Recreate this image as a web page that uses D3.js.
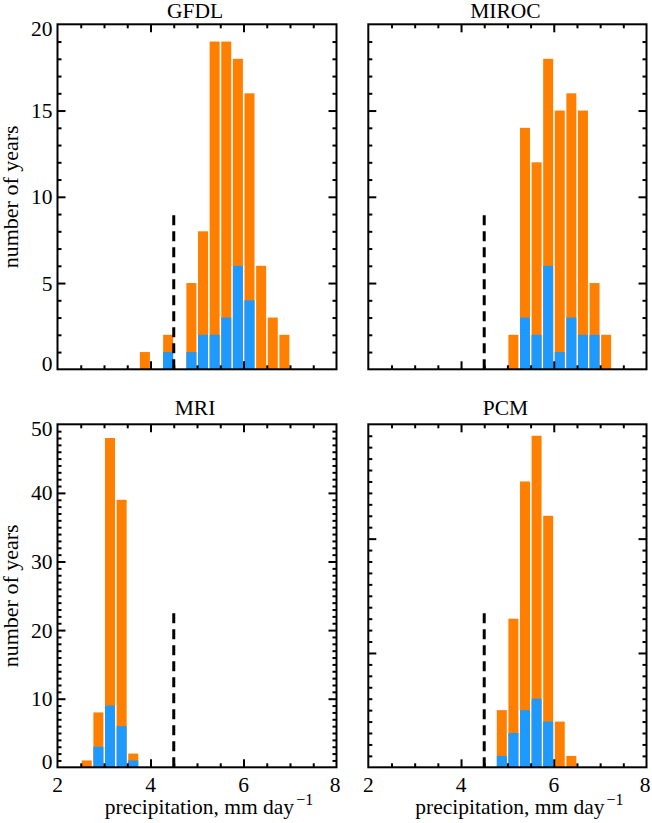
<!DOCTYPE html>
<html><head><meta charset="utf-8">
<script src="https://cdn.jsdelivr.net/npm/d3@7"></script>
<style>
html,body{margin:0;padding:0;background:#fff;}
</style></head>
<body><svg id="c" width="652" height="823"></svg>
<script>
// ---- data ----
const models = ["GFDL", "MIROC", "MRI", "PCM"];
const binWidth = 0.25;
const gfdlBins  = [3.75, 4.25, 4.75, 5.0, 5.25, 5.5, 5.75, 6.0, 6.25, 6.5, 6.75];
const gfdlAll   = [1, 2, 5, 8, 19, 19, 18, 16, 6, 3, 2];
const gfdlBlue  = [0, 1, 1, 2, 2, 3, 6, 4, 0, 0, 0];
const mirocBins = [5.0, 5.25, 5.5, 5.75, 6.0, 6.25, 6.5, 6.75, 7.0];
const mirocAll  = [2, 14, 12, 18, 15, 16, 15, 5, 2];
const mirocBlue = [0, 3, 2, 6, 1, 3, 2, 2, 0];
const mriBins   = [2.5, 2.75, 3.0, 3.25, 3.5];
const mriAll    = [1, 8, 48, 39, 2];
const mriBlue   = [0, 3, 9, 6, 1];
const pcmBins   = [4.75, 5.0, 5.25, 5.5, 5.75, 6.0, 6.25];
const pcmAll    = [5, 13, 25, 29, 22, 4, 1];
const pcmBlue   = [1, 3, 5, 6, 4, 0, 0];
const yMax      = [20, 20, 50, 30];
const yMajor    = [5, 5, 10, 10];
const threshold = 4.5;
const dashTop   = [9, 9, 22.5, 13.5];
const xTickLabels = [2, 4, 6, 8];
const xDomain = [2, 8];
const xLabel = "precipitation, mm day";
const yLabel = "number of years";

const binsList = [gfdlBins, mirocBins, mriBins, pcmBins];
const allList = [gfdlAll, mirocAll, mriAll, pcmAll];
const blueList = [gfdlBlue, mirocBlue, mriBlue, pcmBlue];

// ---- layout ----
const FONT = "'Liberation Serif'";
const FS = 21.5;
const ORANGE = "#ff8000", BLUE = "#1e9aff";
const colX = [[57.5, 336.5], [368.3, 646.5]];
const rowY = [[24.3, 369.3], [424.3, 767.3]];

const svg = d3.select("#c");
const txt = (sel, size) => sel.append("text").style("font-family", FONT).style("font-size", size + "px").attr("fill", "#000");

models.forEach((name, i) => {
  const col = i % 2, row = Math.floor(i / 2);
  const [x0, x1] = colX[col], [y0, y1] = rowY[row];
  const x = d3.scaleLinear().domain(xDomain).range([x0, x1]);
  const y = d3.scaleLinear().domain([0, yMax[i]]).range([y1, y0]);
  const g = svg.append("g");

  const data = binsList[i].map((b, k) => ({b, all: allList[i][k], blue: blueList[i][k]}));
  g.selectAll("rect.o").data(data).enter().append("rect")
    .attr("x", d => x(d.b) + 1)
    .attr("width", d => x(d.b + binWidth) - x(d.b) - 1.6)
    .attr("y", d => y(d.all))
    .attr("height", d => y(0) - y(d.all))
    .attr("fill", ORANGE);
  g.selectAll("rect.b").data(data.filter(d => d.blue > 0)).enter().append("rect")
    .attr("x", d => x(d.b) + 1)
    .attr("width", d => x(d.b + binWidth) - x(d.b) - 1.6)
    .attr("y", d => y(d.blue))
    .attr("height", d => y(0) - y(d.blue))
    .attr("fill", BLUE);

  g.append("line")
    .attr("x1", x(threshold)).attr("x2", x(threshold))
    .attr("y1", y(0)).attr("y2", y(dashTop[i]))
    .attr("stroke", "#000").attr("stroke-width", 3)
    .attr("stroke-dasharray", "10,6");

  const xMinor = d3.range(2.5, 8, 0.5).filter(v => v % 2 !== 0);
  const xMaj = [4, 6];
  const yMinorT = d3.range(1, yMax[i], 1).filter(v => v % yMajor[i] !== 0);
  const yMajT = d3.range(yMajor[i], yMax[i], yMajor[i]);
  const axStyle = sel => { sel.select(".domain").remove(); sel.selectAll("line").attr("stroke", "#000").attr("stroke-width", 2); sel.selectAll("text").remove(); };
  [[xMinor, 4], [xMaj, 8]].forEach(([vals, len]) => {
    g.append("g").attr("transform", `translate(0,${y1})`).call(d3.axisBottom(x).tickValues(vals).tickSize(-len)).call(axStyle);
    g.append("g").attr("transform", `translate(0,${y0})`).call(d3.axisTop(x).tickValues(vals).tickSize(-len)).call(axStyle);
  });
  [[yMinorT, 4], [yMajT, 8]].forEach(([vals, len]) => {
    g.append("g").attr("transform", `translate(${x0},0)`).call(d3.axisLeft(y).tickValues(vals).tickSize(-len)).call(axStyle);
    g.append("g").attr("transform", `translate(${x1},0)`).call(d3.axisRight(y).tickValues(vals).tickSize(-len)).call(axStyle);
  });

  g.append("rect").attr("x", x0).attr("y", y0).attr("width", x1 - x0).attr("height", y1 - y0)
    .attr("fill", "none").attr("stroke", "#000").attr("stroke-width", 2);

  txt(g, FS).attr("x", (x0 + x1) / 2 - 2).attr("y", row === 0 ? 17.5 : 415)
    .attr("text-anchor", "middle").text(name);

  if (col === 0) {
    const labs = d3.range(0, yMax[i] + 0.001, yMajor[i]);
    labs.forEach((v, k) => {
      txt(g, FS).attr("x", 52.5)
        .attr("y", y(v) + (k === 0 ? -6 : (k === labs.length - 1 ? 4.5 : 0)))
        .attr("dy", "0.35em").attr("text-anchor", "end").text(v);
    });
    txt(g, FS + 0.5).attr("transform", `translate(18,${(y0 + y1) / 2}) rotate(-90)`)
      .attr("text-anchor", "middle").text(yLabel);
  }
  if (row === 1) {
    xTickLabels.forEach((v, k) => {
      txt(g, FS).attr("x", x(v) + (k === xTickLabels.length - 1 ? -1.5 : 0))
        .attr("y", 791.5).attr("text-anchor", "middle").text(v);
    });
    const t = txt(g, FS).attr("x", (x0 + x1) / 2 + 12).attr("y", 813.5).attr("text-anchor", "middle");
    t.append("tspan").text(xLabel);
    t.append("tspan").attr("dx", 2).attr("dy", -9).style("font-size", "16px").text("\u22121");
  }
});
</script></body></html>
